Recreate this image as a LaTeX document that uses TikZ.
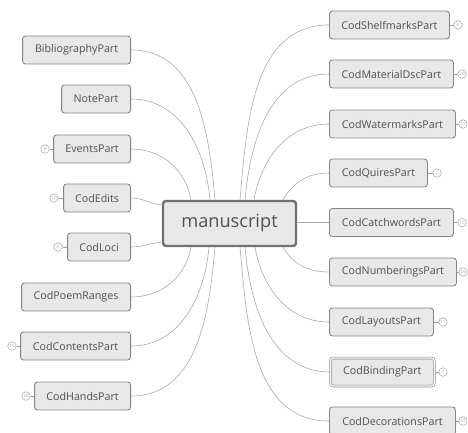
\documentclass[tikz,border=0pt]{standalone}
\usepackage{fontspec}
\setmainfont{Open Sans}
\definecolor{boxfill}{HTML}{E8E8E8}
\definecolor{boxline}{HTML}{858585}
\definecolor{txt}{HTML}{505050}
\definecolor{conncol}{HTML}{AAAAAA}
\definecolor{badgecol}{HTML}{A0A0A0}
\begin{document}
\begin{tikzpicture}[x=1pt,y=-1pt,
  child/.style={draw=boxline, fill=boxfill, rounded corners=3pt, line width=0.9pt,
    minimum height=28pt, inner sep=0pt, text=txt, font=\fontsize{10.7}{12}\selectfont},
  lchild/.style={child, anchor=east},
  rchild/.style={child, anchor=west},
  central/.style={draw=boxline!85!black, fill=boxfill, rounded corners=3pt, line width=2.4pt,
    minimum width=133pt, minimum height=45pt, inner sep=0pt, text=txt,
    font=\fontsize{18.2}{21}\selectfont},
  conn/.style={draw=conncol, line width=0.6pt},
  badge/.style={circle, draw=badgecol, line width=0.5pt, minimum size=8.5pt, inner sep=0pt,
    text=badgecol, font=\fontsize{4.5}{5}\selectfont},
  blink/.style={draw=badgecol, line width=0.5pt}
]
\useasboundingbox (0,0) rectangle (468,433);

\node[central] (m) at (229.5,223.5) {manuscript};

% left children
\node[lchild, minimum width=108pt] (bib) at (131,50) {BibliographyPart};
\node[lchild, minimum width=69pt] (note) at (131,99) {NotePart};
\node[lchild, minimum width=77pt] (events) at (131,149) {EventsPart};
\node[lchild, minimum width=67pt] (edits) at (131,198) {CodEdits};
\node[lchild, minimum width=63pt] (loci) at (131,247) {CodLoci};
\node[lchild, minimum width=109pt] (poem) at (131,297) {CodPoemRanges};
\node[lchild, minimum width=110pt] (contents) at (131,346) {CodContentsPart};
\node[lchild, minimum width=96pt] (hands) at (131,396) {CodHandsPart};

% right children
\node[rchild, minimum width=120pt] (shelf) at (329,25) {CodShelfmarksPart};
\node[rchild, minimum width=124pt] (material) at (329,74) {CodMaterialDscPart};
\node[rchild, minimum width=126pt] (water) at (329,124) {CodWatermarksPart};
\node[rchild, minimum width=98pt] (quires) at (329,173) {CodQuiresPart};
\node[rchild, minimum width=124pt] (catch) at (329,222.5) {CodCatchwordsPart};
\node[rchild, minimum width=127pt] (numb) at (329,272) {CodNumberingsPart};
\node[rchild, minimum width=104pt] (layouts) at (329,322) {CodLayoutsPart};
\node[rchild, minimum width=104pt, double=white, double distance=1.3pt, line width=0.6pt] (binding) at (330,372) {CodBindingPart};
\node[rchild, minimum width=126pt] (deco) at (329,421) {CodDecorationsPart};

% attachment points on the central node
\coordinate (t1) at (215,200);
\coordinate (t2) at (210,200);
\coordinate (t3) at (191,200);
\coordinate (l1) at (162,205);
\coordinate (l2) at (162,242);
\coordinate (b1) at (191,247);
\coordinate (b2) at (209,247);
\coordinate (b3) at (215,247);
\coordinate (rt1) at (240,200);
\coordinate (rt2) at (245,200);
\coordinate (rt3) at (254,200);
\coordinate (rt4) at (283,200);
\coordinate (rb1) at (283,247);
\coordinate (rb2) at (255,247);
\coordinate (rb3) at (245,247);
\coordinate (rb4) at (240,247);

% connectors, left
\draw[conn] (bib.east) to[out=0,in=95] (t1);
\draw[conn] (note.east) to[out=0,in=95] (t2);
\draw[conn] (events.east) to[out=0,in=100] (t3);
\draw[conn] (edits.east) to[out=0,in=175] (l1);
\draw[conn] (loci.east) to[out=0,in=185] (l2);
\draw[conn] (poem.east) to[out=0,in=-100] (b1);
\draw[conn] (contents.east) to[out=0,in=-95] (b2);
\draw[conn] (hands.east) to[out=0,in=-95] (b3);

% connectors, right
\draw[conn] (shelf.west) to[out=180,in=85] (rt1);
\draw[conn] (material.west) to[out=180,in=85] (rt2);
\draw[conn] (water.west) to[out=180,in=80] (rt3);
\draw[conn] (quires.west) to[out=180,in=60] (rt4);
\draw[conn] (catch.west) -- (m.east |- catch.west);
\draw[conn] (numb.west) to[out=180,in=-60] (rb1);
\draw[conn] (layouts.west) to[out=180,in=-80] (rb2);
\draw[conn] (binding.west) to[out=180,in=-85] (rb3);
\draw[conn] (deco.west) to[out=180,in=-85] (rb4);

% badges, left
\node[badge] (be) at (45,149) {9};
\node[badge] (bed) at (54,198) {10};
\node[badge] (bl) at (58,247) {5};
\node[badge] (bc) at (12,346) {16};
\node[badge] (bh) at (26,396) {30};
\draw[blink] (be) -- (events);
\draw[blink] (bed) -- (edits);
\draw[blink] (bl) -- (loci);
\draw[blink] (bc) -- (contents);
\draw[blink] (bh) -- (hands);

% badges, right
\node[badge] (bs) at (458,25) {6};
\node[badge] (bm) at (462,74) {20};
\node[badge] (bw) at (463,124) {11};
\node[badge] (bq) at (437,173) {7};
\node[badge] (bcw) at (462,222.5) {15};
\node[badge] (bn) at (463,272) {15};
\node[badge] (bla) at (443,322) {11};
\node[badge] (bb) at (443,372) {7};
\node[badge] (bd) at (463,421) {27};
\draw[blink] (bs) -- (shelf);
\draw[blink] (bm) -- (material);
\draw[blink] (bw) -- (water);
\draw[blink] (bq) -- (quires);
\draw[blink] (bcw) -- (catch);
\draw[blink] (bn) -- (numb);
\draw[blink] (bla) -- (layouts);
\draw[blink] (bb) -- (binding);
\draw[blink] (bd) -- (deco);
\end{tikzpicture}
\end{document}
